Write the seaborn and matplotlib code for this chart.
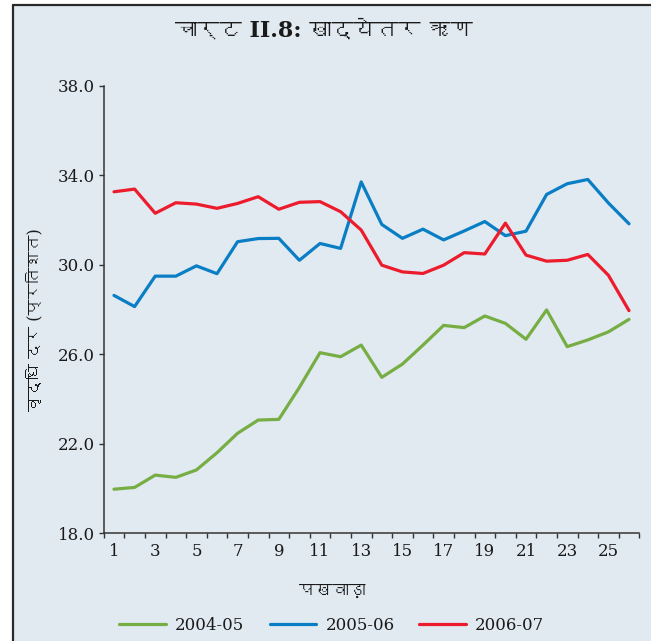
import numpy as np
import pandas as pd
import matplotlib
matplotlib.use("Agg")
import matplotlib.pyplot as plt
import seaborn as sns
from matplotlib import font_manager as fm
from matplotlib.ft2font import FT2Font
from matplotlib.lines import Line2D
from matplotlib.patches import Rectangle

# ---------------- data ----------------
fortnights = list(range(1, 27))
tick_labels = [str(k) for k in range(1, 27, 2)]
series_names = ["2004-05", "2005-06", "2006-07"]

growth_2004_05 = [19.97, 20.05, 20.60, 20.50, 20.83, 21.60, 22.47, 23.06, 23.09, 24.52,
                  26.07, 25.89, 26.41, 24.97, 25.56, 26.41, 27.29, 27.19, 27.71, 27.38,
                  26.67, 27.98, 26.34, 26.64, 27.00, 27.56]
growth_2005_06 = [28.63, 28.13, 29.49, 29.49, 29.95, 29.60, 31.03, 31.17, 31.18, 30.20,
                  30.95, 30.73, 33.70, 31.80, 31.18, 31.59, 31.11, 31.51, 31.93, 31.30,
                  31.50, 33.14, 33.62, 33.81, 32.76, 31.83]
growth_2006_07 = [33.26, 33.38, 32.30, 32.77, 32.71, 32.52, 32.74, 33.04, 32.48, 32.79,
                  32.82, 32.37, 31.55, 29.98, 29.68, 29.61, 29.98, 30.54, 30.48, 31.86,
                  30.43, 30.16, 30.20, 30.46, 29.53, 27.95]

title_text = "चार्ट II.8: खाद्येतर ऋण"
ylabel_text = "वृद्धि दर (प्रतिशत)"
xlabel_text = "पखवाड़ा"

colors = ["#76AE43", "#0A7EC5", "#EC1C2D"]
bg = "#E1E9F1"

# ---------------- fonts ----------------
def find_font(ch):
    for f in fm.fontManager.ttflist:
        try:
            if ord(ch) in FT2Font(f.fname).get_charmap():
                return f.name
        except Exception:
            pass
    return None

deva = find_font("क")
text_fonts = ["DejaVu Serif"] + ([deva] if deva else []) + ["DejaVu Sans"]

df = pd.DataFrame({
    "fortnight": fortnights * 3,
    "growth": growth_2004_05 + growth_2005_06 + growth_2006_07,
    "series": sum([[n] * len(fortnights) for n in series_names], []),
})

sns.set_theme(style="ticks")
plt.rcParams["font.family"] = ["DejaVu Serif", "DejaVu Sans"]

fig = plt.figure(figsize=(6.51, 6.41), dpi=100, facecolor="white")
W, H = 651, 641
fig.patches.append(Rectangle((12.7 / W, 0), 1, 1 - 5.3 / H, transform=fig.transFigure,
                             facecolor=bg, edgecolor="none", zorder=-10))
fig.add_artist(Line2D([12.7 / W, 12.7 / W], [0, 1 - 5.3 / H], transform=fig.transFigure,
                      color="#2a2a2a", lw=1.6))
fig.add_artist(Line2D([12.7 / W, 1], [1 - 5.3 / H, 1 - 5.3 / H], transform=fig.transFigure,
                      color="#2a2a2a", lw=1.6))

ax = fig.add_axes([103.7 / W, 1 - 533.3 / H, (639.3 - 103.7) / W, (533.3 - 85.7) / H])
ax.set_facecolor("none")

sns.lineplot(data=df, x="fortnight", y="growth", hue="series", palette=colors,
             hue_order=series_names, linewidth=2.3, ax=ax, legend=False,
             solid_joinstyle="round", solid_capstyle="round")

ax.set_xlim(0.5, 26.5)
ax.set_ylim(18, 38)
ax.set_yticks(np.arange(18, 38.1, 4))
ax.set_yticklabels([f"{v:.1f}" for v in np.arange(18, 38.1, 4)])
ax.set_xticks(np.arange(0.5, 26.6, 1))
ax.set_xticklabels([])
ax.set_xticks(range(1, 27, 2), minor=True)
ax.set_xticklabels(tick_labels, minor=True)
ax.tick_params(axis="x", which="major", length=3.5, width=1.0, color="#333333", direction="out")
ax.tick_params(axis="x", which="minor", length=0, pad=7, labelsize=12, labelcolor="#1a1a1a")
ax.tick_params(axis="y", length=3.3, width=1.0, color="#333333", pad=3.2,
               labelsize=12, labelcolor="#1a1a1a")
for s in ["top", "right"]:
    ax.spines[s].set_visible(False)
for s in ["left", "bottom"]:
    ax.spines[s].set_color("#333333")
    ax.spines[s].set_linewidth(1.1)

ax.set_xlabel("")
ax.set_ylabel("")
fig.text(35 / W, 1 - 320 / H, ylabel_text, rotation=90, ha="center", va="center",
         fontsize=11.5, family=text_fonts, color="#1a1a1a")
fig.text(332 / W, 1 - 591 / H, xlabel_text, ha="center", va="center",
         fontsize=12, family=text_fonts, color="#1a1a1a")
fig.text(324 / W, 1 - 31 / H, title_text, ha="center", va="center",
         fontsize=16, fontweight="bold", family=text_fonts, color="#1a1a1a")

handles = [Line2D([0], [0], color=c, lw=2.3) for c in colors]
fig.legend(handles, series_names, loc="center", bbox_to_anchor=(332 / W, 1 - 625 / H),
           ncol=3, frameon=False, fontsize=12, handlelength=2.8, handletextpad=0.55,
           columnspacing=1.5, borderpad=0, labelcolor="#1a1a1a")

fig.savefig("out.png", dpi=100, facecolor="white")
